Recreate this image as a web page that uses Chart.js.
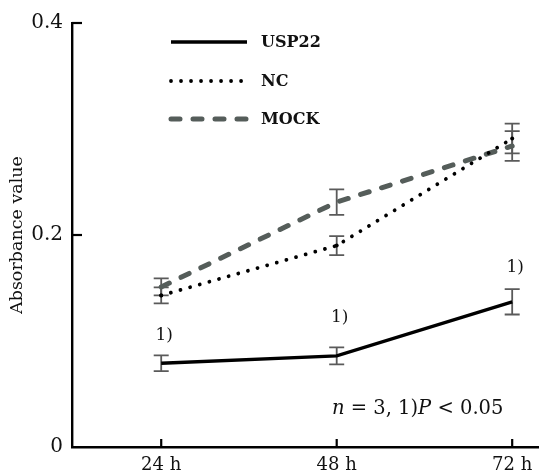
<!DOCTYPE html>
<html>
<head>
<meta charset="utf-8">
<script src="https://cdn.jsdelivr.net/npm/chart.js@4/dist/chart.umd.min.js"></script>
<style>
  html, body { margin: 0; padding: 0; background: #fff; }
  #wrap { width: 542px; height: 473px; }
</style>
</head>
<body>
<div id="wrap"><canvas id="absorbanceChart" width="542" height="473"></canvas></div>
<script>
// data
const timePoints = [24, 48, 72];
const xTickLabels = ['24 h', '48 h', '72 h'];
const yTickValues = [0, 0.2, 0.4];
const seriesNames = ['USP22', 'NC', 'MOCK'];
const usp22Values = [0.079, 0.086, 0.137];
const usp22Errors = [0.0075, 0.008, 0.012];
const ncValues = [0.143, 0.190, 0.291];
const ncErrors = [0.0075, 0.009, 0.014];
const mockValues = [0.151, 0.231, 0.284];
const mockErrors = [0.008, 0.012, 0.014];
const sigLabels = ['1)', '1)', '1)'];
const noteParts = [['n', true], [' = 3, 1)', false], ['P', true], [' < 0.05', false]];

const serif = 'DejaVu Serif';
const mockGray = '#555d5a';
const errGray = '#5a5a5a';

function toXY(values) {
    return values.map((v, i) => ({ x: timePoints[i], y: v }));
}

const errorsByDataset = [usp22Errors, ncErrors, mockErrors];

// error bars drawn under the lines
const errorBarPlugin = {
    id: 'errorBars',
    beforeDatasetsDraw(chart) {
        const ctx = chart.ctx;
        const xs = chart.scales.x;
        const ys = chart.scales.y;
        ctx.save();
        ctx.strokeStyle = errGray;
        ctx.lineWidth = 1.8;
        chart.data.datasets.forEach((ds, di) => {
            const errs = errorsByDataset[di];
            ds.data.forEach((pt, i) => {
                const px = xs.getPixelForValue(pt.x);
                const top = ys.getPixelForValue(pt.y + errs[i]);
                const bot = ys.getPixelForValue(pt.y - errs[i]);
                ctx.beginPath();
                ctx.moveTo(px, top); ctx.lineTo(px, bot);
                ctx.moveTo(px - 7.5, top); ctx.lineTo(px + 7.5, top);
                ctx.moveTo(px - 7.5, bot); ctx.lineTo(px + 7.5, bot);
                ctx.stroke();
            });
        });
        ctx.restore();
    }
};

// inward tick marks, legend, significance marks and the note
const decorPlugin = {
    id: 'decor',
    afterDraw(chart) {
        const ctx = chart.ctx;
        const xs = chart.scales.x;
        const ys = chart.scales.y;
        const area = chart.chartArea;
        ctx.save();
        ctx.strokeStyle = '#000';
        ctx.lineWidth = 2.2;
        yTickValues.forEach(v => {
            if (v === 0) return;
            const py = ys.getPixelForValue(v);
            ctx.beginPath();
            ctx.moveTo(area.left, py); ctx.lineTo(area.left + 10, py);
            ctx.stroke();
        });
        timePoints.forEach(t => {
            const px = xs.getPixelForValue(t);
            ctx.beginPath();
            ctx.moveTo(px, area.bottom); ctx.lineTo(px, area.bottom - 8);
            ctx.stroke();
        });

        // legend
        const legendY = [42, 81, 119];
        chart.data.datasets.forEach((ds, i) => {
            ctx.save();
            ctx.strokeStyle = ds.borderColor;
            ctx.lineWidth = ds.borderWidth;
            ctx.lineCap = ds.borderCapStyle || 'butt';
            ctx.setLineDash(ds.borderDash || []);
            ctx.beginPath();
            ctx.moveTo(171, legendY[i]); ctx.lineTo(247, legendY[i]);
            ctx.stroke();
            ctx.restore();
            ctx.fillStyle = '#111';
            ctx.font = 'bold 16px "' + serif + '"';
            ctx.textAlign = 'left';
            ctx.textBaseline = 'middle';
            ctx.fillText(seriesNames[i], 261, legendY[i] + 1);
        });

        // "1)" above USP22 points
        const sigOffsets = [28, 38, 34];
        ctx.fillStyle = '#111';
        ctx.font = '17px "' + serif + '"';
        ctx.textAlign = 'center';
        ctx.textBaseline = 'middle';
        usp22Values.forEach((v, i) => {
            const px = xs.getPixelForValue(timePoints[i]);
            const py = ys.getPixelForValue(v);
            ctx.fillText(sigLabels[i], px + 3, py - sigOffsets[i]);
        });

        // note
        let nx = 332;
        ctx.textAlign = 'left';
        noteParts.forEach(([txt, italic]) => {
            ctx.font = (italic ? 'italic ' : '') + '19.5px "' + serif + '"';
            ctx.fillText(txt, nx, 409);
            nx += ctx.measureText(txt).width;
        });
        ctx.restore();
    }
};

const ctx = document.getElementById('absorbanceChart').getContext('2d');
new Chart(ctx, {
    type: 'line',
    data: {
        datasets: [{
            label: seriesNames[0],
            data: toXY(usp22Values),
            borderColor: '#000',
            borderWidth: 3.4,
            pointRadius: 0,
            tension: 0
        }, {
            label: seriesNames[1],
            data: toXY(ncValues),
            borderColor: '#000',
            borderWidth: 3.8,
            borderDash: [0.01, 10],
            borderCapStyle: 'round',
            pointRadius: 2,
            pointBackgroundColor: '#000',
            pointBorderWidth: 0,
            tension: 0
        }, {
            label: seriesNames[2],
            data: toXY(mockValues),
            borderColor: mockGray,
            borderWidth: 5,
            borderDash: [9, 13],
            borderCapStyle: 'round',
            pointRadius: 0,
            tension: 0
        }]
    },
    options: {
        responsive: false,
        animation: false,
        devicePixelRatio: 1,
        layout: { padding: { top: 23, right: 0, bottom: 0, left: 0 } },
        plugins: {
            legend: { display: false },
            tooltip: { enabled: false }
        },
        scales: {
            x: {
                type: 'linear',
                min: 11.8,
                max: 75.53,
                afterBuildTicks: s => { s.ticks = timePoints.map(v => ({ value: v })); },
                afterFit: s => { s.height = 26; },
                grid: { display: false, drawTicks: false },
                border: { display: true, color: '#000', width: 2.4 },
                ticks: {
                    autoSkip: false,
                    maxRotation: 0,
                    padding: 8,
                    color: '#111',
                    font: { family: serif, size: 18 },
                    callback: v => xTickLabels[timePoints.indexOf(v)]
                }
            },
            y: {
                min: 0,
                max: 0.4,
                afterBuildTicks: s => { s.ticks = yTickValues.map(v => ({ value: v })); },
                afterFit: s => { s.width = 72; },
                grid: { display: false, drawTicks: false },
                border: { display: true, color: '#000', width: 2.4 },
                ticks: {
                    padding: 9,
                    color: '#111',
                    font: { family: serif, size: 20 },
                    callback: v => (v === 0 ? '0' : v.toFixed(1))
                },
                title: {
                    display: true,
                    text: 'Absorbance value',
                    color: '#111',
                    font: { family: serif, size: 17.5 },
                    padding: { top: 7, bottom: 0 }
                }
            }
        }
    },
    plugins: [errorBarPlugin, decorPlugin]
});
</script>
</body>
</html>
